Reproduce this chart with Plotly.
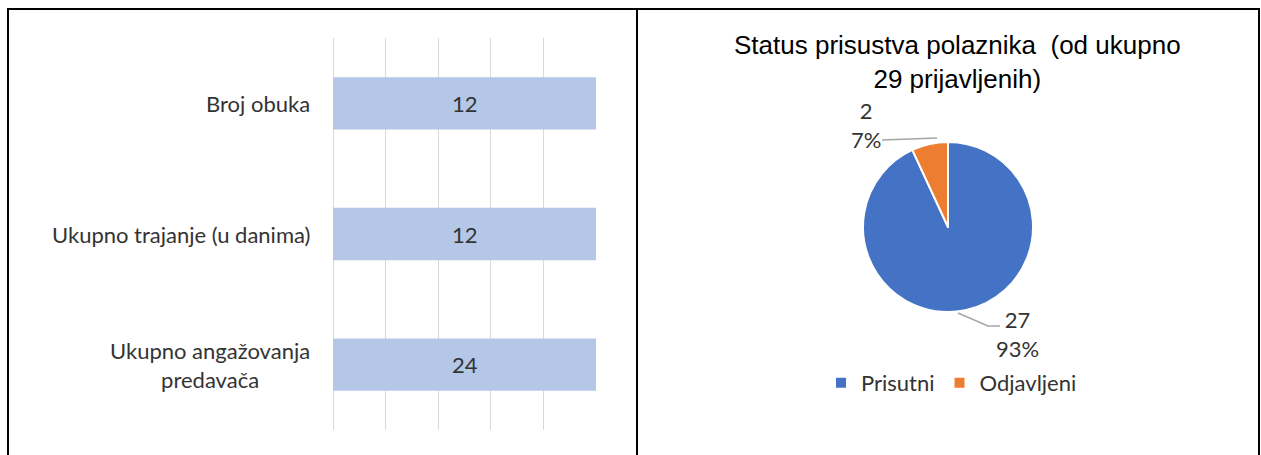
import plotly.graph_objects as go

# ---- data ----
bar_categories = ["Broj obuka", "Ukupno trajanje (u danima)", "Ukupno angažovanja<br>predavača"]
bar_values = [12, 12, 24]
x_axis_range = [0, 5]

pie_labels = ["Prisutni", "Odjavljeni"]
pie_values = [27, 2]
pie_colors = ["#4472C4", "#ED7D31"]
pie_title = "Status prisustva polaznika  (od ukupno<br>29 prijavljenih)"

W, H = 1261, 455
def px(x): return x / W
def py(y): return 1 - y / H

LABEL_FONT = "Lato"
FS = 22
TXT = "#333333"

fig = go.Figure()

fig.add_trace(go.Bar(
    y=bar_categories, x=bar_values, orientation="h",
    marker=dict(color="#B4C7E7", line=dict(width=0)),
    xaxis="x", yaxis="y", showlegend=False, hoverinfo="x+y",
))

total = sum(pie_values)
fig.add_trace(go.Pie(
    labels=pie_labels, values=pie_values, sort=False, direction="clockwise", rotation=0,
    marker=dict(colors=pie_colors, line=dict(color="white", width=2)),
    textinfo="none", domain=dict(x=[px(863), px(1033)], y=[py(312), py(142)]),
    showlegend=True,
))

annotations = []
mid = (x_axis_range[0] + x_axis_range[1]) / 2
for cat, v in zip(bar_categories, bar_values):
    annotations.append(dict(x=mid, y=cat, xref="x", yref="y", text=str(v), showarrow=False,
                            xanchor="center", yanchor="middle",
                            font=dict(family=LABEL_FONT, size=FS, color=TXT)))
    annotations.append(dict(x=px(312), y=cat, xref="paper", yref="y", text=cat, showarrow=False,
                            xanchor="right", yanchor="middle", align="center",
                            font=dict(family=LABEL_FONT, size=FS, color=TXT)))

# pie data labels
pie_label_pos = [(1017, 334), (866, 125)]
for (lx, ly), v in zip(pie_label_pos, pie_values):
    annotations.append(dict(x=px(lx), y=py(ly), xref="paper", yref="paper",
                            text=f"{v}<br>{round(100 * v / total)}%", showarrow=False,
                            xanchor="center", yanchor="middle", align="center",
                            font=dict(family=LABEL_FONT, size=FS, color=TXT)))

annotations.append(dict(x=px(957), y=py(62), xref="paper", yref="paper", text=pie_title,
                        showarrow=False, align="center", xanchor="center", yanchor="middle",
                        font=dict(family="Liberation Sans", size=26, color="#000000")))

shapes = [
    dict(type="rect", xref="paper", yref="paper", x0=px(8), x1=px(637), y0=py(470), y1=py(9),
         line=dict(color="black", width=2)),
    dict(type="rect", xref="paper", yref="paper", x0=px(637), x1=px(1259), y0=py(470), y1=py(9),
         line=dict(color="black", width=2)),
    dict(type="line", xref="paper", yref="paper", x0=px(882), y0=py(140), x1=px(937), y1=py(138),
         line=dict(color="#A6A6A6", width=1.5)),
    dict(type="path", xref="paper", yref="paper",
         path=f"M {px(958)} {py(313)} L {px(988)} {py(326)} L {px(1000)} {py(326)}",
         line=dict(color="#A6A6A6", width=1.5)),
]

fig.update_layout(
    width=W, height=H, margin=dict(l=0, r=0, t=0, b=0),
    paper_bgcolor="white", plot_bgcolor="white",
    xaxis=dict(domain=[px(333), px(596)], range=x_axis_range, dtick=1, showticklabels=False,
               showgrid=True, gridcolor="#D9D9D9", gridwidth=1, zeroline=True, zerolinecolor="#D9D9D9",
               zerolinewidth=1, showline=False, fixedrange=True),
    yaxis=dict(domain=[py(430), py(38)], autorange="reversed", showticklabels=False,
               showgrid=False, zeroline=False, showline=False),
    bargap=0.6,
    legend=dict(orientation="h", x=px(821), y=py(362), xanchor="left", yanchor="top",
                font=dict(family=LABEL_FONT, size=FS, color=TXT), itemwidth=30,
                traceorder="normal"),
    annotations=annotations, shapes=shapes,
)

fig.write_html("out.html", config={"displayModeBar": False},
               post_script="document.body.style.margin='0px';")
